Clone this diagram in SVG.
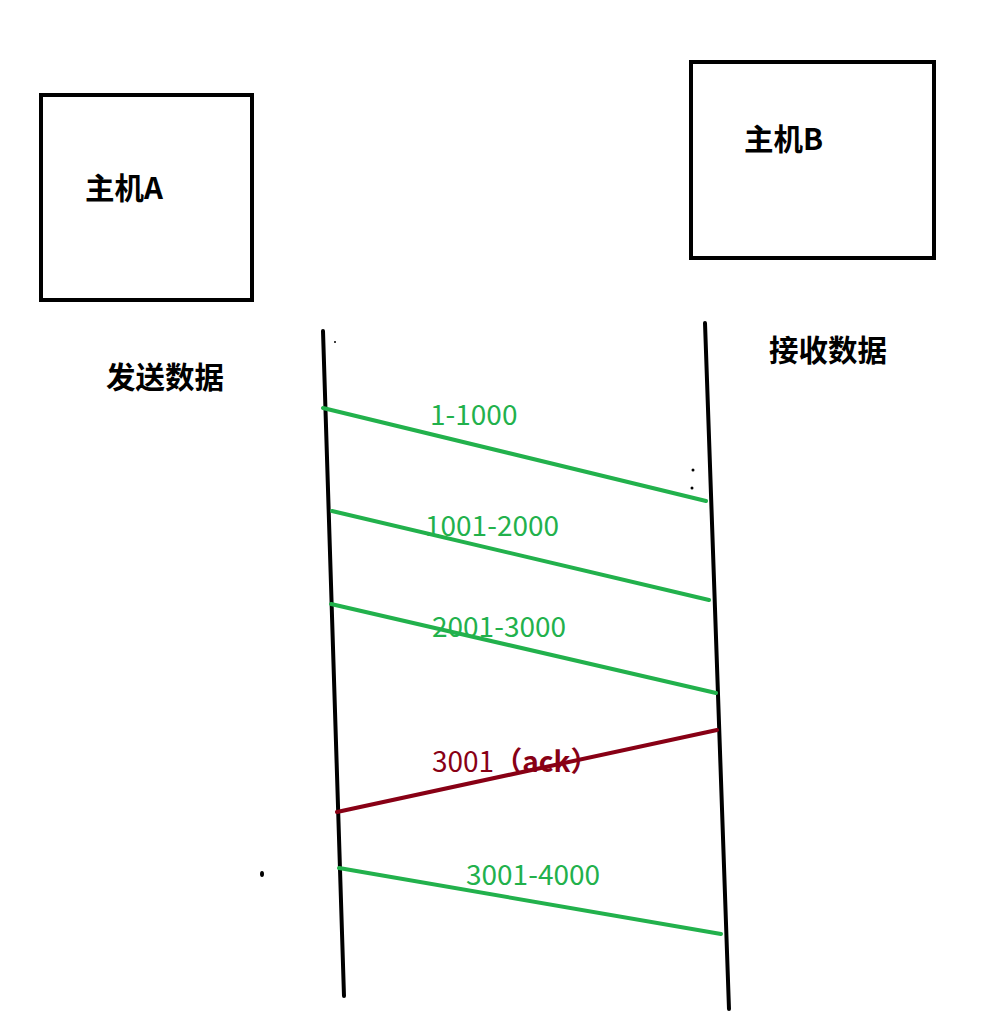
<svg xmlns="http://www.w3.org/2000/svg" width="987" height="1013" viewBox="0 0 987 1013">
<style>
.box{fill:#fff;stroke:#000;stroke-width:4}
.title{font-family:"Noto Sans CJK SC","Noto Sans",sans-serif;font-weight:bold;font-size:29.5px;fill:#000}
.life{stroke:#000;stroke-width:4;stroke-linecap:round;fill:none}
.msg{stroke:#22b14c;stroke-width:4;stroke-linecap:round;fill:none}
.ack{stroke:#880015;stroke-width:4;stroke-linecap:round;fill:none}
.lbl{font-family:"Noto Sans CJK SC","Noto Sans",sans-serif;font-size:28px;fill:#22b14c}
.lblr{font-family:"Noto Sans CJK SC","Noto Sans",sans-serif;font-size:28px;fill:#880015}
</style>
<rect width="987" height="1013" fill="#fff"/>
<g id="hostA">
<rect class="box" x="41" y="95" width="211" height="205"/>
<text class="title" x="85" y="199">主机A</text>
</g>
<g id="hostB">
<rect class="box" x="691" y="62" width="243" height="196"/>
<text class="title" x="744" y="150">主机B</text>
</g>
<g id="labelSend"><text class="title" x="106" y="388">发送数据</text></g>
<g id="labelRecv"><text class="title" x="769" y="361">接收数据</text></g>
<g id="lifelines">
<path class="life" d="M323,331 L344,996"/>
<path class="life" d="M705,323 L729,1009"/>
</g>
<g id="connectors">
<path class="msg" d="M323,408 L706,501"/>
<path class="msg" d="M332,511 L709,600"/>
<path class="msg" d="M331,604 L716,693"/>
<path class="ack" d="M337,812 L717,730"/>
<path class="msg" d="M339,868 L721,934"/>
</g>
<g id="labels">
<text class="lbl" x="430" y="425">1-1000</text>
<text class="lbl" x="425" y="536">1001-2000</text>
<text class="lbl" x="432" y="637">2001-3000</text>
<text class="lblr" x="432" y="772">3001<tspan font-weight="bold">（ack）</tspan></text>
<text class="lbl" x="466" y="885">3001-4000</text>
</g>
<g id="marks" fill="#000">
<ellipse cx="262" cy="874" rx="2" ry="3"/>
<circle cx="692" cy="488" r="1.5"/>
<circle cx="693" cy="470" r="1.5"/>
<circle cx="335" cy="342" r="1"/>
</g>
</svg>
